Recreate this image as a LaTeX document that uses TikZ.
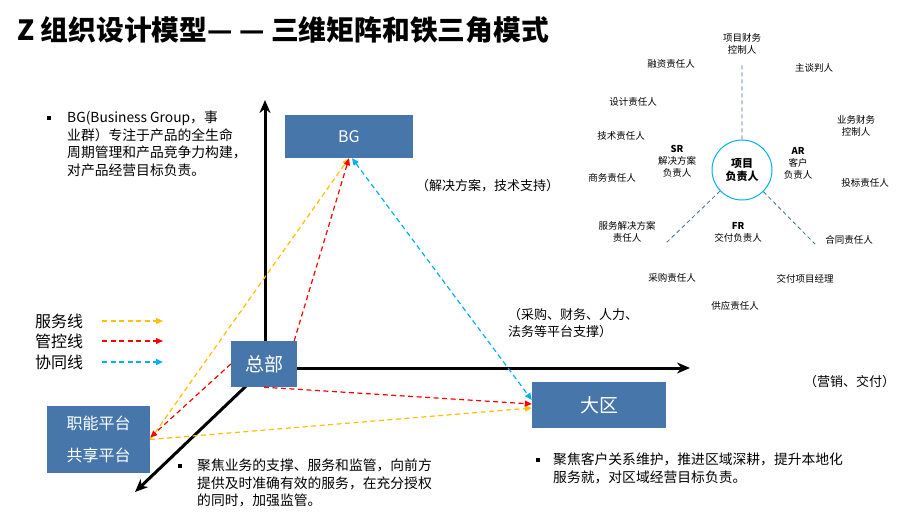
\documentclass[tikz,border=0pt]{standalone}
\usepackage{fontspec}
\setmainfont{Noto Sans CJK SC}
\usetikzlibrary{arrows.meta}
\definecolor{ink}{HTML}{000000}
\definecolor{kastenblau}{HTML}{4676AA}
\definecolor{dgelb}{HTML}{FFC000}
\definecolor{krot}{HTML}{FF0000}
\definecolor{hblau}{HTML}{00B0F0}
\definecolor{strichblau}{HTML}{3F6E9E}
\newcommand\klein{\fontsize{9.5}{12}\selectfont}
\newcommand\fliess{\fontsize{13.8}{17.5}\selectfont}
\newcommand\rolle[4]{\node[inner sep=0,font=\klein,align=center] (#1) at (#2,#3) {#4};}
\newcommand\punkt[5]{\node[fill=ink,inner sep=0,minimum size=3.5pt] (#1p) at (#2,#4) {};%
  \node[anchor=north west,inner sep=0,font=\fliess,align=left] (#1) at (#3,#4-7) {#5};}

\begin{document}
\begin{tikzpicture}[x=1pt,y=-1pt]
\useasboundingbox (0,0) rectangle (923,518);
\fill[white] (0,0) rectangle (923,518);
\tikzset{kasten/.style={fill=kastenblau,text=white,inner sep=0,align=center},
  achse/.style={ink,line width=3pt,-{Stealth[length=13pt,width=11pt]}},
  linie/.style={line width=1.2pt,dash pattern=on 5pt off 3.5pt},
  spitze/.style={-{Triangle[length=7pt,width=6pt]}},
  dienst/.style={linie,spitze,dgelb},
  steuer/.style={linie,spitze,krot},
  abstimm/.style={linie,hblau},
  speiche/.style={strichblau,line width=0.8pt,dash pattern=on 4pt off 3pt}}

% ---- Titel ------------------------------------------------------------------
\node[anchor=west,inner sep=0,font=\bfseries\fontsize{27.8}{32}\selectfont] (titel)
  at (17,30) {Z 组织设计模型— — 三维矩阵和铁三角模式};

% ---- Achsen: vom Hauptsitz nach oben, rechts und vorne
\coordinate (ursprung) at (265,368);
\coordinate (oben) at (265,100);
\coordinate (rechts) at (690,368);
\coordinate (vorne) at (135,492);
\draw[achse] (ursprung) -- (oben);
\draw[achse] (ursprung) -- (rechts);
\draw[achse] (ursprung) -- (vorne);

% ---- Kästen -----------------------------------------------------------------
\node[kasten,minimum width=128pt,minimum height=43pt,font=\fontsize{16}{18}\selectfont]
  (bg) at (349,136.5) {BG};
\node[kasten,minimum width=66pt,minimum height=46pt,font=\fontsize{19}{21}\selectfont]
  (hq) at (264,364) {总部};
\node[kasten,minimum width=103pt,minimum height=67pt,font=\fontsize{16}{32}\selectfont]
  (zn) at (98.5,439.5) {职能平台\\共享平台};
\node[kasten,minimum width=134pt,minimum height=46pt,font=\fontsize{19}{21}\selectfont]
  (dq) at (599,405) {大区};

% ---- Beziehungen: Dienst (gelb), Steuerung (rot), Abstimmung (blau)
\draw[dienst] (zn.east) -- (bg.south);
\draw[dienst] (zn.east) -- ([yshift=-3pt]dq.west);
\draw[steuer] (hq.west) -- ([yshift=2pt]zn.east);
\draw[steuer] ([xshift=-3pt]hq.north east) -- (bg.south);
\draw[steuer] (hq.south) -- ([yshift=1pt]dq.west);
\draw[abstimm,{Triangle[length=7pt,width=6pt]}-{Triangle[length=7pt,width=6pt]}]
  ([xshift=3pt]bg.south) -- ([yshift=5pt]dq.west);

% ---- Legende ----------------------------------------------------------------
\foreach \y/\k/\s/\w/\n in {321/服务线/dienst/1.2/a,341/管控线/steuer/1.2/b,362/协同线/abstimm/1.8/c} {
  \node[anchor=west,inner sep=0,font=\fontsize{16}{18}\selectfont] (leg\n) at (35,\y) {\k};
  \coordinate (von\n) at (102,\y);
  \coordinate (bis\n) at (163,\y);
  \draw[\s,spitze,line width=\w pt] (von\n) -- (bis\n);}

% ---- Erläuterungen ----------------------------------------------------------
\punkt{bgtext}{49}{67}{118}{BG(Business Group，事\\业群）专注于产品的全生命\\周期管理和产品竞争力构建，\\对产品经营目标负责。}
\punkt{zntext}{180}{197}{466}{聚焦业务的支撑、服务和监管，向前方\\提供及时准确有效的服务，在充分授权\\的同时，加强监管。}
\punkt{dqtext}{538}{553}{460}{聚焦客户关系维护，推进区域深耕，提升本地化\\服务就，对区域经营目标负责。}
\node[anchor=west,inner sep=0,font=\fontsize{13}{17}\selectfont] (bgzusatz) at (416,186) {（解决方案，技术支持）};
\node[anchor=north west,inner sep=0,font=\fontsize{13}{17}\selectfont,align=left] (znzusatz)
  at (508,308) {（采购、财务、人力、\\法务等平台支撑）};
\node[anchor=west,inner sep=0,font=\fontsize{13}{17}\selectfont] (dqzusatz) at (804,382) {（营销、交付）};

% ---- Eisernes Dreieck um den Projektverantwortlichen
\node[circle,draw=hblau,line width=1pt,minimum size=60pt,inner sep=0,align=center,
  font=\fontsize{11}{13}\selectfont\bfseries] (pm) at (742,170) {项目\\负责人};
\rolle{pfk}{742}{43.5}{项目财务\\控制人}
\rolle{rz}{671}{64}{融资责任人}
\rolle{zt}{814}{68}{主谈判人}
\rolle{sj}{633}{102}{设计责任人}
\rolle{ywk}{856}{125.5}{业务财务\\控制人}
\rolle{js}{621}{136}{技术责任人}
\rolle{sr}{677}{161}{\textbf{SR}\\解决方案\\负责人}
\rolle{ar}{798}{163.5}{\textbf{AR}\\客户\\负责人}
\rolle{sw}{612}{178}{商务责任人}
\rolle{tb}{865}{183}{投标责任人}
\rolle{fw}{627}{231.5}{服务解决方案\\责任人}
\rolle{fr}{738}{232}{\textbf{FR}\\交付负责人}
\rolle{ht}{849}{240}{合同责任人}
\rolle{cg}{672}{278}{采购责任人}
\rolle{jf}{805}{279}{交付项目经理}
\rolle{gy}{735}{306}{供应责任人}
\coordinate (sp1) at (742,63);
\coordinate (sp2) at (666,243);
\coordinate (sp3) at (815,244);
\draw[speiche] (pm) -- (sp1) (pm) -- (sp2) (pm) -- (sp3);
\end{tikzpicture}
\end{document}
